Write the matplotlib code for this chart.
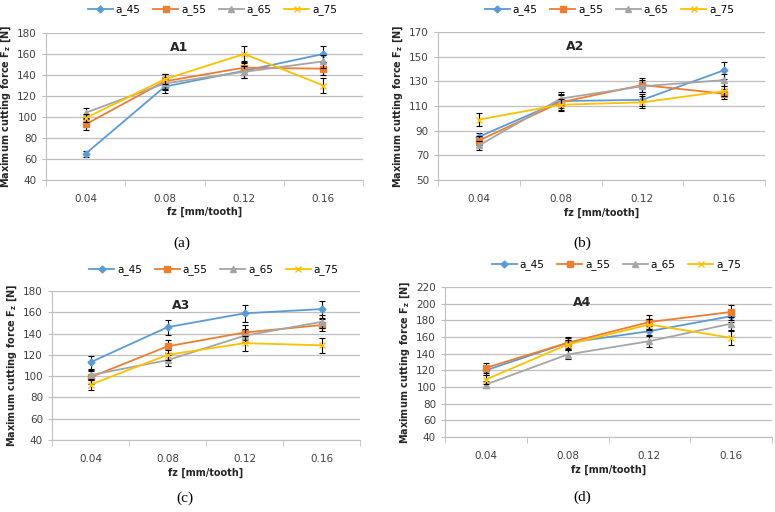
import matplotlib
matplotlib.use("Agg")
import matplotlib.pyplot as plt
import numpy as np

# feed rate categories and series names
fz = ["0.04", "0.08", "0.12", "0.16"]
series = ["a_45", "a_55", "a_65", "a_75"]

# A1 values and error bars
a1_45 = [65, 129, 144, 160]
a1_55 = [93, 134, 147, 146]
a1_65 = [104, 132, 143, 153]
a1_75 = [99, 136, 160, 130]
a1_err = [[3, 6, 7, 8], [5, 7, 6, 6], [5, 6, 6, 6], [4, 5, 8, 7]]

# A2
a2_45 = [85, 114, 115, 139]
a2_55 = [82, 113, 127, 120]
a2_65 = [78, 116, 126, 131]
a2_75 = [99, 111, 113, 122]
a2_err = [[3, 6, 5, 7], [4, 6, 6, 4], [4, 5, 5, 5], [5, 5, 5, 4]]

# A3
a3_45 = [113, 146, 159, 163]
a3_55 = [99, 128, 141, 148]
a3_65 = [101, 115, 138, 151]
a3_75 = [92, 120, 131, 129]
a3_err = [[6, 7, 8, 8], [6, 6, 7, 6], [5, 5, 6, 6], [5, 5, 7, 7]]

# A4
a4_45 = [120, 153, 167, 185]
a4_55 = [123, 153, 178, 190]
a4_65 = [103, 139, 155, 176]
a4_75 = [109, 151, 175, 159]
a4_err = [[5, 6, 6, 7], [6, 7, 8, 9], [4, 5, 7, 8], [5, 6, 7, 8]]

colors = ["#5b9bd5", "#ed7d31", "#a5a5a5", "#ffc000"]
markers = ["D", "s", "^", "x"]
msizes = [3.5, 5, 4, 5]

W, H = 775, 512
fig = plt.figure(figsize=(W / 100, H / 100), dpi=100)


def px_axes(left, right, top, bottom):
    return fig.add_axes([left / W, 1 - bottom / H, (right - left) / W, (bottom - top) / H])


panels = [
    # title, data, errs, ylim, step, box, legend y, xlabel y, caption, caption pos
    ("A1", [a1_45, a1_55, a1_65, a1_75], a1_err, (40, 180), 20, (46, 363, 33, 180), 10, 212, "(a)", (182, 243)),
    ("A2", [a2_45, a2_55, a2_65, a2_75], a2_err, (50, 170), 20, (438, 765, 32, 180), 10, 213, "(b)", (582, 243)),
    ("A3", [a3_45, a3_55, a3_65, a3_75], a3_err, (40, 180), 20, (52, 360, 291, 440), 270, 473, "(c)", (185, 498)),
    ("A4", [a4_45, a4_55, a4_65, a4_75], a4_err, (40, 220), 20, (445, 772, 287, 437), 265, 470, "(d)", (582, 497)),
]

x = np.arange(len(fz))
for title, data, errs, ylim, step, box, ly, xly, cap, cpos in panels:
    ax = px_axes(*box)
    for i, name in enumerate(series):
        ax.errorbar(x, data[i], yerr=errs[i], color=colors[i], marker=markers[i],
                    markersize=msizes[i], lw=1.3, ecolor="black", elinewidth=0.8,
                    capsize=2.2, capthick=0.8, label=name, zorder=3 + i)
    ax.set_xlim(-0.5, 3.5)
    ax.set_ylim(*ylim)
    ax.set_yticks(np.arange(ylim[0], ylim[1] + 1, step))
    ax.set_xticks(x)
    ax.set_xticklabels(fz)
    ax.set_xticks([-0.5, 0.5, 1.5, 2.5, 3.5], minor=True)
    ax.tick_params(axis="x", which="major", length=0, labelsize=7.5, pad=10, colors="#404040")
    ax.tick_params(axis="x", which="minor", length=4, color="#bfbfbf")
    ax.tick_params(axis="y", length=3, color="#bfbfbf", labelsize=7.5, labelcolor="#404040")
    ax.grid(axis="y", color="#bfbfbf", lw=0.9)
    ax.set_axisbelow(True)
    for s in ["top", "right"]:
        ax.spines[s].set_visible(False)
    for s in ["left", "bottom"]:
        ax.spines[s].set_color("#bfbfbf")
    ax.text(0.42, 0.9, title, transform=ax.transAxes, ha="center", va="center",
            fontsize=9, fontweight="bold", color="#262626")
    ax.set_ylabel("Maximum cutting force F$_\\mathbf{z}$ [N]", fontsize=7, fontweight="bold",
                  color="#262626", labelpad=3)
    fig.text((box[0] + box[1]) / 2 / W, 1 - xly / H, "fz [mm/tooth]", ha="center", va="center",
             fontsize=7, fontweight="bold", color="#262626")
    fig.text(cpos[0] / W, 1 - cpos[1] / H, cap, ha="center", va="center",
             fontsize=11, family="Liberation Serif")
    handles, labels = ax.get_legend_handles_labels()
    # drop the error bars from the legend entries
    handles = [h[0] for h in handles]
    fig.legend(handles, labels, loc="center", ncol=4, frameon=False, fontsize=7.5,
               bbox_to_anchor=((box[0] + box[1]) / 2 / W + 0.01, 1 - ly / H),
               handlelength=2.4, columnspacing=1.2, handletextpad=0.3)

fig.savefig("out.png", dpi=100)
